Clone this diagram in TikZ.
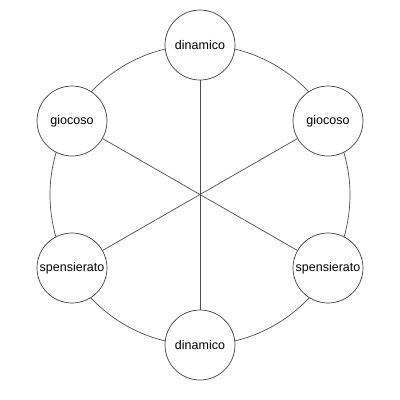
\documentclass[tikz,border=0pt]{standalone}
\usepackage{fontspec}
\setmainfont{Liberation Sans}
\begin{document}
\begin{tikzpicture}[x=1pt,y=-1pt,
  wnode/.style={circle,draw=black!75,fill=white,line width=0.7pt,minimum size=70pt,inner sep=0pt,font=\fontsize{12.5}{14}\selectfont},
  link/.style={draw=black!70,line width=0.7pt}]
\useasboundingbox (0,0) rectangle (400,400);
\coordinate (c) at (200,195);
\draw[link] (c) circle (150);
\node[wnode] (t) at (200,45) {dinamico};
\node[wnode] (b) at (200,345) {dinamico};
\node[wnode] (ul) at (72,121) {giocoso};
\node[wnode] (ur) at (328,121) {giocoso};
\node[wnode] (ll) at (72,268) {spensierato};
\node[wnode] (lr) at (328,268) {spensierato};
\draw[link] (t) -- (b);
\draw[link] (ul) -- (lr);
\draw[link] (ur) -- (ll);
\end{tikzpicture}
\end{document}
